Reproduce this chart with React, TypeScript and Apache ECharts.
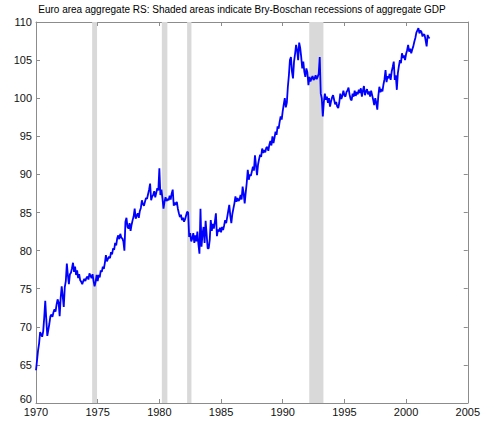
import React, { useEffect, useRef } from "react";
import * as echarts from "echarts";

const titleText =
  "Euro area aggregate RS: Shaded areas indicate Bry-Boschan recessions of aggregate GDP";

const startYear = 1970;
const xTicks = [1970, 2005, 5];
const yTicks = [60, 110, 5];

// monthly values, one row per year 1970..2001
const rs1970s = [
  [64.3, 65.6, 66.9, 67.8, 69.3, 69.0, 68.7, 69.4, 71.2, 73.4, 71.0, 68.8],
  [69.6, 70.4, 71.4, 71.6, 71.3, 71.9, 72.3, 72.0, 72.9, 73.6, 73.2, 71.4],
  [73.8, 75.3, 74.0, 72.6, 75.2, 76.0, 78.3, 76.8, 75.6, 76.9, 77.1, 77.7],
  [78.4, 77.2, 77.9, 76.8, 77.4, 76.4, 76.9, 76.1, 75.9, 75.6, 76.0, 76.3],
  [76.0, 76.4, 76.6, 76.2, 77.0, 76.7, 76.4, 76.9, 76.0, 75.3, 75.9, 76.8],
  [76.0, 76.8, 76.5, 77.4, 77.2, 77.9, 77.6, 78.4, 79.4, 78.6, 78.9, 79.2],
  [79.0, 79.8, 79.5, 80.3, 80.1, 81.0, 80.7, 81.6, 82.0, 81.5, 82.2, 81.7],
  [81.6, 81.2, 80.0, 83.8, 84.3, 83.1, 82.9, 83.6, 82.6, 83.4, 84.0, 84.5],
  [85.5, 84.2, 84.6, 84.9, 84.3, 85.2, 85.6, 86.6, 86.1, 85.9, 86.4, 86.9],
  [86.8, 87.4, 88.0, 88.8, 86.6, 87.1, 87.3, 87.8, 87.0, 87.6, 88.2, 87.9],
];
const rs1980s = [
  [90.8, 87.3, 88.0, 86.9, 85.5, 86.4, 87.0, 86.5, 86.8, 86.6, 87.2, 86.7],
  [87.5, 88.0, 85.9, 86.3, 86.0, 86.4, 85.5, 84.9, 84.4, 84.7, 84.0, 84.3],
  [83.8, 84.1, 84.6, 85.1, 85.0, 81.8, 82.3, 81.2, 81.6, 82.3, 81.0, 82.0],
  [81.2, 82.5, 80.8, 79.6, 85.5, 80.5, 82.2, 83.1, 81.0, 83.9, 82.1, 80.3],
  [80.3, 81.4, 84.0, 82.6, 83.5, 82.9, 83.8, 84.9, 81.9, 82.8, 82.5, 83.0],
  [82.4, 83.1, 82.7, 83.3, 84.0, 83.6, 84.4, 85.2, 86.0, 84.6, 83.6, 84.8],
  [85.5, 86.2, 87.1, 86.4, 86.9, 86.5, 86.7, 87.3, 86.7, 88.4, 87.5, 86.2],
  [87.6, 88.9, 90.6, 89.3, 90.0, 89.8, 90.4, 91.0, 90.5, 92.5, 91.2, 89.9],
  [91.3, 92.0, 92.6, 92.3, 93.4, 92.8, 93.2, 92.9, 93.5, 93.6, 93.1, 93.9],
  [94.4, 93.8, 95.0, 94.1, 94.8, 95.6, 95.2, 96.3, 96.0, 96.9, 97.6, 97.2],
];
const rs1990s = [
  [98.3, 99.2, 100.0, 98.8, 99.4, 101.5, 103.0, 105.0, 105.4, 103.5, 102.6, 104.8],
  [105.8, 107.0, 106.3, 105.0, 107.3, 106.6, 105.4, 103.9, 104.8, 103.5, 102.8, 103.9],
  [103.4, 101.7, 102.8, 102.2, 102.6, 102.9, 102.4, 102.6, 103.0, 102.5, 102.8, 103.2],
  [105.4, 100.6, 100.0, 97.6, 99.5, 100.6, 99.8, 100.2, 99.4, 100.0, 98.9, 99.6],
  [100.1, 100.4, 99.8, 99.2, 99.5, 98.9, 98.7, 99.4, 100.6, 99.9, 100.3, 101.0],
  [100.4, 100.2, 100.8, 101.0, 101.4, 100.5, 99.9, 99.7, 100.6, 100.2, 101.0, 100.3],
  [100.8, 100.5, 101.1, 100.7, 101.3, 100.2, 101.0, 101.6, 100.4, 100.9, 101.2, 100.5],
  [100.9, 100.2, 101.0, 100.4, 99.8, 99.1, 100.0, 99.4, 98.5, 100.3, 101.5, 100.8],
  [101.2, 100.9, 101.8, 102.5, 103.7, 102.1, 102.9, 102.6, 103.2, 102.4, 103.5, 104.1],
  [104.8, 102.4, 103.0, 101.1, 103.3, 104.2, 105.0, 104.6, 105.9, 105.3, 105.6, 105.0],
];
const rs2000s = [
  [105.8, 106.3, 107.0, 106.1, 106.5, 105.9, 106.4, 106.8, 107.4, 107.9, 108.6, 108.9],
  [109.2, 108.5, 108.9, 108.7, 108.1, 108.4, 108.3, 107.6, 106.8, 108.3, 107.9, 108.0],
];

// recession periods (start, end) in decimal years
const recessionStarts = [1974.55, 1980.2, 1982.25, 1992.15];
const recessionEnds = [1974.95, 1980.65, 1982.6, 1993.3];

const FONT = "'Liberation Sans', Arial, sans-serif";

export default function App() {
  const ref = useRef<HTMLDivElement>(null);
  useEffect(() => {
    if (!ref.current) return;
    const chart = echarts.init(ref.current, undefined, { renderer: "svg" });
    const monthly = [...rs1970s, ...rs1980s, ...rs1990s, ...rs2000s].flat();
    const seriesData = monthly.map((v, i) => [startYear + i / 12, v]);
    const areas = recessionStarts.map((s, i) => [
      { xAxis: s },
      { xAxis: recessionEnds[i] },
    ]);
    const axisLine = { show: true, lineStyle: { color: "#8c8c8c", width: 1 } };
    const tick = { show: true, inside: true, length: 4, lineStyle: { color: "#8c8c8c" } };
    const label = { color: "#111", fontSize: 11, fontFamily: FONT };
    chart.setOption({
      animation: false,
      backgroundColor: "#fff",
      graphic: [
        {
          type: "text",
          x: 242,
          y: 4,
          silent: true,
          style: {
            text: titleText,
            textAlign: "center",
            textVerticalAlign: "top",
            fontSize: 10,
            fontFamily: FONT,
            fill: "#000",
          },
        },
      ],
      grid: { left: 36, right: 15, top: 22, bottom: 18, containLabel: false },
      xAxis: [
        {
          type: "value",
          min: xTicks[0],
          max: xTicks[1],
          interval: xTicks[2],
          position: "bottom",
          axisLine,
          axisTick: tick,
          splitLine: { show: false },
          axisLabel: { ...label, margin: 3, formatter: (v: number) => String(v) },
        },
        {
          type: "value",
          min: xTicks[0],
          max: xTicks[1],
          interval: xTicks[2],
          position: "top",
          axisLine,
          axisTick: tick,
          splitLine: { show: false },
          axisLabel: { show: false },
        },
      ],
      yAxis: [
        {
          type: "value",
          min: yTicks[0],
          max: yTicks[1],
          interval: yTicks[2],
          position: "left",
          axisLine,
          axisTick: tick,
          splitLine: { show: false },
          axisLabel: {
            ...label,
            margin: 4,
            formatter: (v: number) => (v === yTicks[0] ? `{low|${v}}` : String(v)),
            rich: {
              low: {
                color: "#111",
                fontSize: 11,
                fontFamily: FONT,
                padding: [0, 0, 9, 0],
              },
            },
          },
        },
        {
          type: "value",
          min: yTicks[0],
          max: yTicks[1],
          interval: yTicks[2],
          position: "right",
          axisLine,
          axisTick: tick,
          splitLine: { show: false },
          axisLabel: { show: false },
        },
      ],
      series: [
        {
          type: "line",
          data: [],
          z: 1,
          markArea: {
            silent: true,
            itemStyle: { color: "#d9d9d9", opacity: 1 },
            data: areas,
          },
        },
        {
          type: "line",
          data: seriesData,
          z: 3,
          showSymbol: false,
          symbol: "none",
          lineStyle: { color: "#0000ff", width: 1.8 },
        },
      ],
    });
    return () => chart.dispose();
  }, []);
  return (
    <div
      ref={ref}
      style={{ position: "fixed", left: 0, top: 0, width: 483, height: 421 }}
    />
  );
}
